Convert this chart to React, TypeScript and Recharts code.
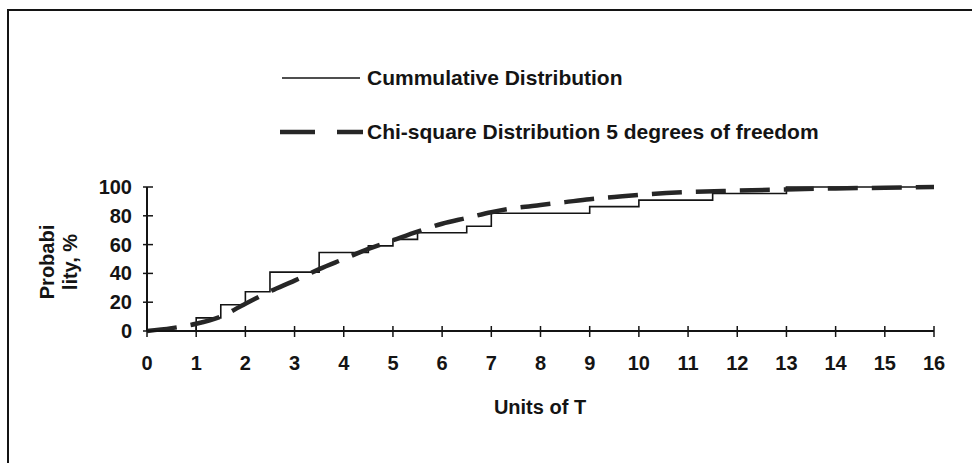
import React from 'react';
import { LineChart, Line, XAxis, YAxis, Legend, Label } from 'recharts';

const FONT = '"Liberation Sans", Arial, Helvetica, sans-serif';
const INK = '#141414';

// observed cumulative distribution (value after each jump)
const stepT = [0, 1, 1.5, 2, 2.5, 3.5, 4.5, 5, 5.5, 6.5, 7, 9, 10, 11.5, 13, 16];
const stepPct = [0, 9.1, 18.2, 27.3, 40.9, 54.5, 59.1, 63.6, 68.2, 72.7, 81.8, 86.4, 90.9, 95.5, 100, 100];

// theoretical curve, 5 degrees of freedom
const chiT = [0, 0.5, 1, 1.5, 2, 2.5, 3, 3.5, 4, 4.5, 5, 5.5, 6, 6.5, 7, 7.5, 8, 8.5, 9, 9.5, 10, 11, 12, 13, 14, 15, 16];
const chiPct = [0, 2, 5, 10, 19, 27.5, 35, 43, 50, 57, 63, 69, 74.5, 78.5, 82.5, 85.5, 87.5, 89.5, 91.5, 93, 94.5, 96.5, 97.5, 98.3, 99, 99.5, 100];

const xTicks = [0, 1, 2, 3, 4, 5, 6, 7, 8, 9, 10, 11, 12, 13, 14, 15, 16];
const yTicks = [0, 20, 40, 60, 80, 100];

const seriesOrder = ['cum', 'chi'];
const names: Record<string, string> = {
  cum: 'Cummulative Distribution',
  chi: 'Chi-square Distribution 5 degrees of freedom',
};

// merge both series on one numeric T axis
const rows = Array.from(new Set([...stepT, ...chiT]))
  .sort((a, b) => a - b)
  .map((t) => {
    const si = stepT.indexOf(t);
    const ci = chiT.indexOf(t);
    return {
      t,
      cum: si >= 0 ? stepPct[si] : null,
      chi: ci >= 0 ? chiPct[ci] : null,
    };
  });

const textStyle = { fontFamily: FONT, fontWeight: 700, fontSize: 20, fill: INK };

function XTick({ x, y, payload }: any) {
  return (
    <g>
      <line x1={x} x2={x} y1={y - 5} y2={y + 6} stroke={INK} strokeWidth={1.5} />
      <text x={x} y={y + 39} textAnchor="middle" {...textStyle}>
        {payload.value}
      </text>
    </g>
  );
}

function YTick({ x, y, payload }: any) {
  return (
    <g>
      <line x1={x - 4} x2={x + 6} y1={y} y2={y} stroke={INK} strokeWidth={1.5} />
      <text x={x - 15} y={y + 7} textAnchor="end" {...textStyle}>
        {payload.value}
      </text>
    </g>
  );
}

function YTitle({ viewBox }: any) {
  const cy = viewBox && viewBox.height ? viewBox.y + viewBox.height / 2 + 3 : 262;
  const lines = ['Probabi', 'lity, %'];
  return (
    <g>
      {lines.map((s, i) => {
        const cx = 47 + i * 23;
        return (
          <text
            key={s}
            x={cx}
            y={cy}
            transform={`rotate(-90, ${cx}, ${cy})`}
            textAnchor="middle"
            dominantBaseline="central"
            {...textStyle}
          >
            {s}
          </text>
        );
      })}
    </g>
  );
}

function XTitle() {
  return (
    <text x={540} y={414} textAnchor="middle" {...textStyle}>
      Units of T
    </text>
  );
}

function LegendBox({ payload }: any) {
  const items = [...(payload || [])].sort(
    (a: any, b: any) => seriesOrder.indexOf(a.dataKey) - seriesOrder.indexOf(b.dataKey)
  );
  return (
    <div style={{ fontFamily: FONT, fontWeight: 700, fontSize: 21, color: INK, lineHeight: '24px' }}>
      {items.map((entry: any, i: number) => {
        const dashed = entry.dataKey === 'chi';
        return (
          <div
            key={entry.value}
            style={{ display: 'flex', alignItems: 'center', height: 24, marginTop: i ? 30 : 0, whiteSpace: 'nowrap' }}
          >
            <svg width={87} height={10} style={{ display: 'block' }}>
              {dashed ? (
                <line x1={0} x2={83} y1={5} y2={5} stroke="#262626" strokeWidth={4.5} strokeDasharray="35 22" />
              ) : (
                <line x1={2} x2={80} y1={5} y2={5} stroke={INK} strokeWidth={1.6} />
              )}
            </svg>
            <span>{entry.value}</span>
          </div>
        );
      })}
    </div>
  );
}

export default function App() {
  return (
    <div
      style={{
        position: 'absolute',
        left: 0,
        top: 0,
        width: 972,
        height: 463,
        overflow: 'hidden',
        background: '#fff',
      }}
    >
      <div
        style={{
          position: 'absolute',
          left: 7,
          top: 9,
          width: 990,
          height: 480,
          borderLeft: `2px solid ${INK}`,
          borderTop: `2px solid ${INK}`,
        }}
      />
      <div style={{ position: 'absolute', left: 0, top: 0 }}>
        <LineChart
          width={972}
          height={463}
          data={rows}
          margin={{ top: 187, right: 38, bottom: 102, left: 117 }}
        >
          <XAxis
            dataKey="t"
            type="number"
            domain={[0, 16]}
            ticks={xTicks}
            height={30}
            tickSize={0}
            tickMargin={0}
            tickLine={false}
            tick={<XTick />}
            axisLine={{ stroke: INK, strokeWidth: 2 }}
            interval={0}
          >
            <Label content={<XTitle />} />
          </XAxis>
          <YAxis
            type="number"
            domain={[0, 100]}
            ticks={yTicks}
            width={30}
            tickSize={0}
            tickMargin={0}
            tickLine={false}
            tick={<YTick />}
            axisLine={{ stroke: INK, strokeWidth: 2 }}
            interval={0}
          >
            <Label content={<YTitle />} />
          </YAxis>
          <Legend
            layout="horizontal"
            verticalAlign="middle"
            align="center"
            content={<LegendBox />}
            wrapperStyle={{ position: 'absolute', top: 66, left: 280, width: 620 }}
          />
          <Line
            name={names.cum}
            dataKey="cum"
            type="stepAfter"
            stroke={INK}
            strokeWidth={1.6}
            dot={false}
            connectNulls
            isAnimationActive={false}
          />
          <Line
            name={names.chi}
            dataKey="chi"
            type="monotone"
            stroke="#262626"
            strokeWidth={4.5}
            strokeDasharray="30 14"
            dot={false}
            connectNulls
            isAnimationActive={false}
          />
        </LineChart>
      </div>
    </div>
  );
}
